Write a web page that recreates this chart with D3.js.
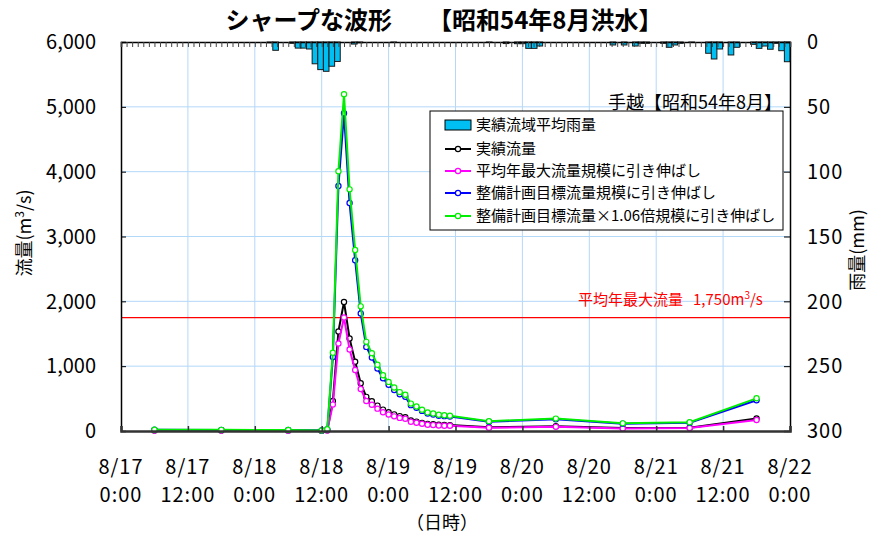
<!DOCTYPE html>
<html lang="ja">
<head>
<meta charset="utf-8">
<script src="https://cdn.jsdelivr.net/npm/d3@7"></script>
<style>
  html, body { margin: 0; padding: 0; background: #fff; }
  svg { display: block; font-family: "Noto Sans CJK JP", "Noto Sans", sans-serif; }
</style>
</head>
<body>
<svg id="chart" width="872" height="535"></svg>
<script>
// ---- data -------------------------------------------------------------
// observation hours counted from 8/17 0:00
const hours = [6, 18, 30, 36, 37, 38, 39, 40, 41, 42, 43, 44, 45, 46, 47, 48,
  49, 50, 51, 52, 53, 54, 55, 56, 57, 58, 59, 66, 78, 90, 102, 114];

// 実績流量 (m3/s)
const observedFlow = [8, 7, 6, 3, 10, 463, 1535, 1990, 1428, 1070, 737, 527,
  460, 392, 330, 290, 257, 230, 214, 162, 145, 126, 110, 103, 96, 93, 91,
  58, 73, 45, 52, 193];

// 平均年最大流量規模に引き伸ばし (m3/s)
const meanAnnualFlow = [7, 6, 5, 3, 9, 407, 1350, 1750, 1256, 941, 648, 463,
  405, 345, 290, 255, 226, 202, 188, 142, 128, 111, 97, 91, 84, 82, 80,
  51, 64, 40, 46, 170];

// 整備計画目標流量規模に引き伸ばし (m3/s)
const targetFlow = [20, 17, 15, 7, 25, 1140, 3779, 4900, 3516, 2634, 1814, 1297,
  1133, 965, 812, 714, 633, 566, 527, 399, 357, 310, 271, 254, 236, 229, 224,
  143, 180, 111, 128, 475];

// 整備計画目標流量×1.06倍規模に引き伸ばし (m3/s)
const targetFlow106 = [21, 18, 16, 8, 26, 1208, 4006, 5194, 3727, 2792, 1923, 1375,
  1201, 1023, 861, 757, 671, 600, 559, 423, 378, 329, 287, 269, 250, 243, 237,
  152, 191, 118, 136, 504];

// 実績流域平均雨量 (mm), hourly slot index → rainfall
const rainSlots = [26, 27, 30, 31, 32, 33, 34, 35, 36, 37, 38, 41, 42, 48, 65,
  68, 70, 71, 72, 73, 74, 87, 89, 91, 92, 93, 96, 97, 98, 99, 101, 104, 105,
  106, 108, 109, 112, 113, 114, 115, 116, 117, 118];
const rainMm = [0.6, 6.4, 1.0, 4.7, 4.7, 5.4, 16.8, 21.3, 22.6, 18.7, 15.0, 1.6,
  0.6, 0.3, 0.3, 1.2, 1.3, 1.3, 4.9, 4.9, 3.1, 2.3, 2.3, 3.1, 1.0, 1.0, 1.0,
  4.1, 2.3, 1.0, 0.3, 8.7, 13.1, 5.4, 10.0, 4.1, 1.8, 4.9, 3.1, 5.6, 1.0,
  6.7, 15.2];

const referenceFlow = 1750;

// axis ticks and labels
const xTickHours = [0, 12, 24, 36, 48, 60, 72, 84, 96, 108, 120];
const xTickDates = ["8/17", "8/17", "8/18", "8/18", "8/19", "8/19", "8/20", "8/20", "8/21", "8/21", "8/22"];
const xTickTimes = ["0:00", "12:00", "0:00", "12:00", "0:00", "12:00", "0:00", "12:00", "0:00", "12:00", "0:00"];
const flowTicks = [0, 1000, 2000, 3000, 4000, 5000, 6000];
const rainTicks = [0, 50, 100, 150, 200, 250, 300];

const seriesDefs = [
  { name: "実績流量", values: observedFlow, color: "#000000" },
  { name: "平均年最大流量規模に引き伸ばし", values: meanAnnualFlow, color: "#ff00ff" },
  { name: "整備計画目標流量規模に引き伸ばし", values: targetFlow, color: "#0000ff" },
  { name: "整備計画目標流量×1.06倍規模に引き伸ばし", values: targetFlow106, color: "#00ee00" }
];

// ---- layout -----------------------------------------------------------
const svg = d3.select("#chart");
const plot = { left: 121, right: 790, top: 42, bottom: 431 };

const x = d3.scaleLinear().domain([0, 120]).range([plot.left, plot.right]);
const y = d3.scaleLinear().domain([0, 6000]).range([plot.bottom, plot.top]);
const yRain = d3.scaleLinear().domain([0, 300]).range([plot.top, plot.bottom]);
const xRain = d3.scaleBand().domain(d3.range(119)).range([plot.left, plot.right]).padding(0);

const gridColor = "#b4d8f8";

// grid
const grid = svg.append("g");
grid.selectAll("line.h").data(flowTicks.slice(1, -1)).join("line")
  .attr("x1", plot.left).attr("x2", plot.right)
  .attr("y1", d => y(d)).attr("y2", d => y(d))
  .attr("stroke", gridColor).attr("stroke-width", 1);
grid.selectAll("line.v").data(xTickHours.slice(1, -1)).join("line")
  .attr("y1", plot.top).attr("y2", plot.bottom)
  .attr("x1", d => x(d)).attr("x2", d => x(d))
  .attr("stroke", gridColor).attr("stroke-width", 1);

// reference flow line
svg.append("line")
  .attr("x1", plot.left).attr("x2", plot.right)
  .attr("y1", y(referenceFlow)).attr("y2", y(referenceFlow))
  .attr("stroke", "#ff0000").attr("stroke-width", 1.2);

const refLabel = svg.append("text")
  .attr("x", 578).attr("y", y(referenceFlow) - 13)
  .attr("fill", "#ff0000").attr("font-size", 15);
refLabel.append("tspan").text("平均年最大流量");
refLabel.append("tspan").attr("dx", 10).text("1,750m");
refLabel.append("tspan").attr("dy", -6).attr("font-size", 10).text("3");
refLabel.append("tspan").attr("dy", 6).text("/s");

// rainfall bars hanging from the top
const rain = rainSlots.map((s, i) => ({ slot: s, mm: rainMm[i] }));
svg.append("g").selectAll("rect").data(rain).join("rect")
  .attr("x", d => xRain(d.slot))
  .attr("y", yRain(0))
  .attr("width", xRain.bandwidth())
  .attr("height", d => yRain(d.mm) - yRain(0))
  .attr("fill", "#00bff3")
  .attr("stroke", "#1a1a1a").attr("stroke-width", 1);

// flow series
const line = d3.line().x(d => x(d.h)).y(d => y(d.v));
seriesDefs.forEach(s => {
  const pts = hours.map((h, i) => ({ h, v: s.values[i] }));
  const g = svg.append("g");
  g.append("path").datum(pts)
    .attr("d", line).attr("fill", "none")
    .attr("stroke", s.color).attr("stroke-width", 2);
  g.selectAll("circle").data(pts).join("circle")
    .attr("cx", d => x(d.h)).attr("cy", d => y(d.v)).attr("r", 2.6)
    .attr("fill", "#fff").attr("stroke", s.color).attr("stroke-width", 1.2);
});

// axes
const axisFont = 20;
// left
const leftAxis = svg.append("g").attr("transform", `translate(${plot.left},0)`)
  .call(d3.axisRight(y).tickValues(flowTicks).tickSize(5).tickFormat(""));
leftAxis.select(".domain").attr("stroke", "#000").attr("stroke-width", 1.5);
svg.append("g").selectAll("text").data(flowTicks).join("text")
  .attr("x", 96).attr("y", d => y(d)).attr("dy", "0.36em")
  .attr("text-anchor", "end").attr("font-size", axisFont)
  .text(d => d3.format(",")(d));

// right
const rightAxis = svg.append("g").attr("transform", `translate(${plot.right},0)`)
  .call(d3.axisLeft(yRain).tickValues(rainTicks).tickSize(6).tickFormat(""));
rightAxis.select(".domain").attr("stroke", "#000").attr("stroke-width", 1.5);
svg.append("g").selectAll("text").data(rainTicks).join("text")
  .attr("x", 807).attr("y", d => yRain(d)).attr("dy", "0.36em")
  .attr("text-anchor", "start").attr("font-size", axisFont)
  .attr("letter-spacing", 1)
  .text(d => d);

// top: hourly minor ticks
const topAxis = svg.append("g").attr("transform", `translate(0,${plot.top})`)
  .call(d3.axisBottom(x).tickValues(d3.range(0, 121)).tickSize(5).tickFormat(""));
topAxis.selectAll(".tick line").attr("stroke", "#444");
topAxis.select(".domain").attr("stroke", "#000").attr("stroke-width", 1.5);

// bottom
const bottomAxis = svg.append("g").attr("transform", `translate(0,${plot.bottom})`)
  .call(d3.axisTop(x).tickValues(xTickHours).tickSize(5).tickFormat(""));
bottomAxis.select(".domain").attr("stroke", "#333").attr("stroke-width", 2.5);
bottomAxis.selectAll(".tick line").attr("stroke", "#333").attr("stroke-width", 1.5);

const xl = svg.append("g").selectAll("text").data(xTickHours).join("text")
  .attr("text-anchor", "middle").attr("font-size", axisFont).attr("letter-spacing", 1);
xl.append("tspan").attr("x", d => x(d)).attr("y", 474).text((d, i) => xTickDates[i]);
xl.append("tspan").attr("x", d => x(d)).attr("y", 502).text((d, i) => xTickTimes[i]);

svg.append("text").attr("x", 442).attr("y", 529)
  .attr("text-anchor", "middle").attr("font-size", 18).text("（日時）");

// axis titles
const yTitle = svg.append("text")
  .attr("transform", "translate(31,233) rotate(-90)")
  .attr("text-anchor", "middle").attr("font-size", 18);
yTitle.append("tspan").text("流量(m");
yTitle.append("tspan").attr("dy", -7).attr("font-size", 12).text("3");
yTitle.append("tspan").attr("dy", 7).text("/s)");

svg.append("text")
  .attr("transform", "translate(864,250) rotate(-90)")
  .attr("text-anchor", "middle").attr("font-size", 18).text("雨量(mm)");

// title
svg.append("text").attr("x", 444).attr("y", 29)
  .attr("text-anchor", "middle").attr("font-size", 24).attr("font-weight", "bold")
  .text("シャープな波形\u3000\u3000【昭和54年8月洪水】");

// station label
svg.append("text").attr("x", 782).attr("y", 109)
  .attr("text-anchor", "end").attr("font-size", 18)
  .text("手越【昭和54年8月】");

// legend
const lg = svg.append("g").attr("transform", "translate(430,111)");
lg.append("rect").attr("width", 353).attr("height", 119)
  .attr("fill", "#fff").attr("stroke", "#000").attr("stroke-width", 1);
const rowY = [14, 38, 60, 82, 105];
lg.append("rect").attr("x", 15).attr("y", rowY[0] - 5).attr("width", 26).attr("height", 10)
  .attr("fill", "#00bff3").attr("stroke", "#000").attr("stroke-width", 1);
lg.append("text").attr("x", 46).attr("y", rowY[0]).attr("dy", "0.36em")
  .attr("font-size", 15).text("実績流域平均雨量");
seriesDefs.forEach((s, i) => {
  const ry = rowY[i + 1];
  lg.append("line").attr("x1", 15).attr("x2", 41).attr("y1", ry).attr("y2", ry)
    .attr("stroke", s.color).attr("stroke-width", 2);
  lg.append("circle").attr("cx", 28).attr("cy", ry).attr("r", 2.6)
    .attr("fill", "#fff").attr("stroke", s.color).attr("stroke-width", 1.2);
  lg.append("text").attr("x", 46).attr("y", ry).attr("dy", "0.36em")
    .attr("font-size", 15).text(s.name);
});
</script>
</body>
</html>
